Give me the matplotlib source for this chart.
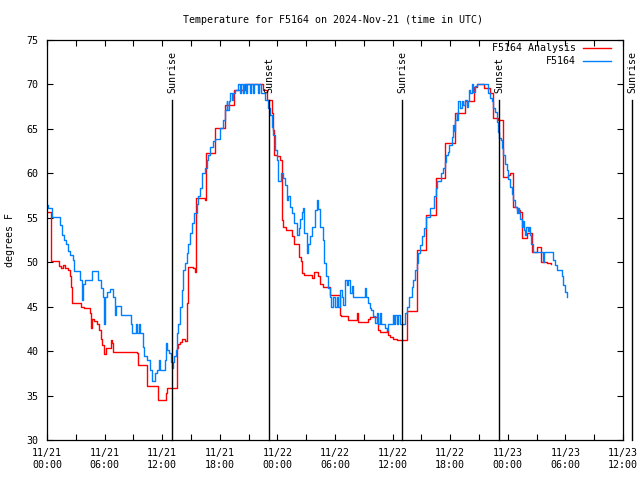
import matplotlib
matplotlib.use("Agg")
import matplotlib.pyplot as plt
from matplotlib.ticker import MultipleLocator

plt.rcParams['font.family'] = ['DejaVu Sans Mono']
FS = 7.2

title = "Temperature for F5164 on 2024-Nov-21 (time in UTC)"
ylabel = "degrees F"

# hours since 11/21 00:00 UTC
obs_h = [0.00, 0.10, 0.52, 1.35, 1.56, 1.82, 2.03, 2.19, 2.40, 2.74, 2.81, 3.44, 3.65, 3.75, 3.96,
         4.69, 5.36, 5.59, 5.83, 5.94, 6.04, 6.25, 6.56, 6.88, 7.08, 7.19, 7.74, 8.72, 8.85, 9.27,
         9.38, 9.58, 9.69, 9.97, 10.10, 10.42, 10.73, 10.91, 11.25, 11.41, 11.70, 11.80, 12.29,
         12.40, 12.55, 12.71, 12.89, 12.99, 13.13, 13.23, 13.41, 13.51, 13.68, 13.85, 14.03, 14.20,
         14.38, 14.55, 14.72, 14.90, 15.14, 15.34, 15.59, 15.76, 15.94, 16.11, 16.46, 16.64, 16.80,
         16.98, 17.26, 17.50, 18.02, 18.36, 18.54, 18.72, 18.80, 18.91, 19.06, 19.22, 19.38, 19.58,
         19.93, 20.10, 20.21, 20.42, 20.52, 20.73, 20.83, 21.15, 21.25, 21.46, 21.56, 21.98, 22.08,
         22.24, 22.71, 22.99, 23.23, 23.41, 23.57, 23.75, 23.93, 24.09, 24.38, 24.58, 24.79, 24.97,
         25.10, 25.31, 25.49, 25.76, 26.01, 26.20, 26.35, 26.53, 26.70, 26.80, 27.05, 27.22, 27.40,
         27.57, 27.92, 28.09, 28.26, 28.44, 28.78, 28.89, 29.03, 29.30, 29.48, 29.58, 29.79, 30.00,
         30.18, 30.31, 30.52, 30.68, 30.86, 31.04, 31.20, 31.35, 31.56, 31.74, 31.91, 33.13, 33.23,
         33.47, 33.65, 33.80, 33.99, 34.17, 34.34, 34.51, 34.69, 34.84, 35.03, 35.21, 35.39, 35.55,
         36.01, 36.18, 36.30, 36.43, 36.56, 36.72, 37.24, 37.47, 37.74, 37.99, 38.16, 38.33, 38.51,
         38.68, 38.85, 39.03, 39.27, 39.48, 39.90, 40.34, 40.52, 40.66, 41.01, 41.22, 41.41, 41.56,
         41.74, 41.91, 42.16, 42.26, 42.40, 42.50, 42.68, 42.76, 42.84, 43.02, 43.20, 43.36, 43.54,
         43.72, 43.89, 43.99, 44.11, 44.24, 44.41, 44.58, 44.76, 45.97, 46.13, 46.32, 46.49, 46.67,
         46.84, 46.91, 47.01, 47.11, 47.26, 47.36, 47.53, 47.71, 47.89, 48.05, 48.23, 48.41, 48.57,
         48.75, 48.93, 49.06, 49.17, 49.27, 49.45, 49.58, 49.69, 49.79, 49.90, 50.10, 50.21, 50.28,
         50.38, 50.59, 51.70, 51.80, 52.74, 52.92, 53.09, 53.61, 53.78, 53.96, 54.14]
obs_t = [56.4, 56.1, 55.1, 54.2, 53.1, 52.5, 52.0, 51.3, 50.8, 50.3, 49.0, 48.0, 45.8, 47.5, 48.0,
         49.0, 48.0, 47.1, 46.1, 43.0, 46.1, 46.6, 47.0, 46.1, 44.1, 45.1, 44.1, 43.0, 42.0, 43.0,
         42.0, 43.0, 42.0, 40.5, 39.4, 39.0, 37.9, 36.6, 37.5, 37.9, 39.0, 37.9, 39.0,
         40.9, 40.1, 39.8, 38.8, 38.1, 38.8, 39.4, 40.1, 42.0, 43.0, 45.0, 46.9, 49.1,
         49.9, 51.0, 52.1, 53.3, 54.4, 55.5, 56.6, 57.4, 58.3, 60.0, 60.6, 61.5, 62.1,
         63.0, 63.6, 63.9, 65.1, 66.0, 67.1, 68.1, 67.1, 68.1, 69.0, 68.3, 69.0, 69.4,
         70.0, 69.0, 70.0, 69.0, 70.0, 69.0, 70.0, 69.0, 70.0, 69.0, 70.0, 69.0, 70.0,
         69.0, 68.3, 67.3, 66.6, 65.2, 64.3, 62.6, 61.5, 59.1, 60.0, 59.5, 58.7, 57.0,
         57.4, 56.2, 55.5, 54.4, 53.1, 53.8, 54.9, 55.7, 56.1, 53.3, 51.0, 52.1, 53.0,
         54.0, 55.9, 57.0, 56.0, 54.0, 52.5, 49.9, 48.4, 47.1, 46.1, 45.0, 46.1, 45.0,
         46.1, 45.0, 46.9, 46.1, 45.2, 48.0, 47.4, 48.0, 46.5, 47.3, 46.1, 47.1, 46.1,
         45.4, 44.9, 44.6, 43.9, 43.2, 44.3, 43.0, 44.3, 43.0, 43.0, 42.6, 42.4, 43.1,
         44.1, 43.1, 44.1, 43.1, 44.1, 43.1, 44.3, 45.0, 46.1, 47.2, 48.0, 49.1, 49.9,
         51.0, 51.9, 52.9, 53.8, 55.1, 56.1, 57.4, 58.3, 59.1, 60.0, 60.6, 61.3, 62.1,
         62.4, 63.2, 64.1, 65.4, 64.8, 66.0, 66.8, 66.0, 68.1, 67.3, 68.1, 67.7, 68.3,
         67.5, 68.1, 69.4, 69.0, 70.1, 69.2, 69.8, 70.0, 69.0, 68.5, 68.1, 67.3, 66.9,
         66.4, 65.8, 64.7, 64.0, 63.8, 62.8, 62.1, 61.1, 60.4, 59.4, 58.5, 57.7, 57.0,
         56.2, 55.5, 56.1, 55.5, 54.9, 54.0, 54.6, 53.6, 53.1, 54.0, 53.5, 54.0, 53.1,
         52.1, 51.1, 50.0, 51.1, 50.2, 49.7, 49.1, 48.4, 47.4, 46.7, 46.1]

ana_h = [0.00, 0.45, 1.25, 1.46, 1.67, 1.88, 2.14, 2.40, 2.47, 2.64, 3.57, 3.85, 4.45, 4.61, 4.72,
         4.90, 5.24, 5.42, 5.59, 5.76, 5.94, 6.11, 6.64, 6.77, 6.91, 9.41, 9.52, 10.45, 11.59,
         12.40, 12.53, 13.51, 13.68, 13.85, 14.03, 14.38, 14.55, 14.64, 15.24, 15.42, 15.47, 16.46,
         16.58, 17.53, 18.54, 19.48, 20.63, 22.46, 22.95, 23.41, 23.57, 23.68, 23.93, 24.27, 24.45,
         24.61, 24.86, 25.55, 25.76, 26.25, 26.46, 26.59, 26.80, 27.57, 27.84, 28.28, 28.44, 28.78,
         29.48, 30.52, 30.63, 31.39, 32.29, 32.36, 33.47, 33.65, 34.51, 34.69, 35.39, 35.55, 35.73,
         36.07, 36.43, 37.53, 38.54, 39.43, 40.47, 41.51, 42.50, 43.54, 44.48, 44.74, 45.52, 46.15,
         46.41, 47.03, 47.45, 47.97, 48.18, 48.49, 48.96, 49.27, 49.45, 50.05, 50.47, 51.04, 51.48,
         52.05, 52.45]
ana_t = [55.6, 50.1, 49.6, 49.4, 49.7, 49.4, 49.1, 48.4, 47.2, 45.4, 45.0, 44.8, 44.3, 42.6, 43.6,
         43.4, 43.0, 42.4, 41.4, 40.7, 39.7, 40.4, 41.3, 40.9, 39.9, 39.8, 38.4, 36.1, 34.5,
         35.3, 35.8, 40.3, 40.8, 41.0, 41.4, 41.1, 45.4, 49.5, 49.4, 48.9, 57.2, 57.0,
         62.3, 65.1, 67.7, 69.4, 70.0, 69.4, 68.3, 66.8, 64.9, 62.1, 61.9, 61.5, 54.7,
         54.0, 53.6, 52.9, 52.1, 50.6, 50.1, 48.8, 48.6, 48.2, 48.9, 48.4, 47.6, 47.2,
         46.3, 44.1, 43.9, 43.5, 44.3, 43.3, 43.6, 43.8, 42.4, 42.2, 42.4, 41.8, 41.6,
         41.4, 41.3, 44.5, 51.4, 55.3, 59.5, 63.4, 66.8, 68.1, 69.7, 70.0, 69.6, 69.0,
         66.2, 66.0, 59.6, 59.8, 60.0, 56.2, 55.9, 55.7, 52.7, 53.3, 51.1, 51.7, 50.0,
         49.9, 49.8]

sun_h = [13.02, 23.16, 37.01, 47.11, 60.94]
sun_lbl = ["Sunrise", "Sunset", "Sunrise", "Sunset", "Sunrise"]

xtick_h = list(range(0, 61, 6))
xtick_lbl = ["11/21\n00:00", "11/21\n06:00", "11/21\n12:00", "11/21\n18:00",
             "11/22\n00:00", "11/22\n06:00", "11/22\n12:00", "11/22\n18:00",
             "11/23\n00:00", "11/23\n06:00", "11/23\n12:00"]

fig = plt.figure(figsize=(6.4, 4.8), dpi=100)
ax = fig.add_axes([47/640, 40/480, 576/640, 400/480])

ax.step(ana_h, ana_t, where='post', color='#ff0000', lw=1.0, label='F5164 Analysis')
ax.step(obs_h, obs_t, where='post', color='#0080ff', lw=1.0, label='F5164')

ax.set_xlim(0, 60)
ax.set_ylim(30, 75)
ax.set_xticks(xtick_h)
ax.set_xticklabels(xtick_lbl, fontsize=FS, linespacing=1.25)
ax.xaxis.set_minor_locator(MultipleLocator(3))
ax.yaxis.set_major_locator(MultipleLocator(5))
ax.tick_params(axis='both', which='both', direction='in', top=True, right=True,
               length=4, width=0.8, labelsize=FS)
ax.tick_params(axis='x', which='major', pad=6)
ax.tick_params(axis='y', which='major', pad=6)
for s in ax.spines.values():
    s.set_linewidth(0.9)

for h, lbl in zip(sun_h, sun_lbl):
    ax.plot([h, h], [0, 0.85], color='black', lw=1.0, transform=ax.get_xaxis_transform(),
            clip_on=False)
    ax.text(h, 0.8675, lbl, rotation=90, ha='center', va='bottom', fontsize=FS,
            transform=ax.get_xaxis_transform(), clip_on=False)

fig.text(333/640, 1 - 20/480, title, ha='center', va='center', fontsize=FS)
fig.text(10/640, 0.5, ylabel, rotation=90, ha='center', va='center', fontsize=FS)

leg = ax.legend(loc='upper right', bbox_to_anchor=(611/640, 1 - 43/480),
                bbox_transform=fig.transFigure, frameon=False, markerfirst=False,
                fontsize=FS, handlelength=2.8, handletextpad=0.7, labelspacing=0.35,
                borderpad=0, borderaxespad=0)

fig.savefig('out.png', dpi=100, facecolor='white')
